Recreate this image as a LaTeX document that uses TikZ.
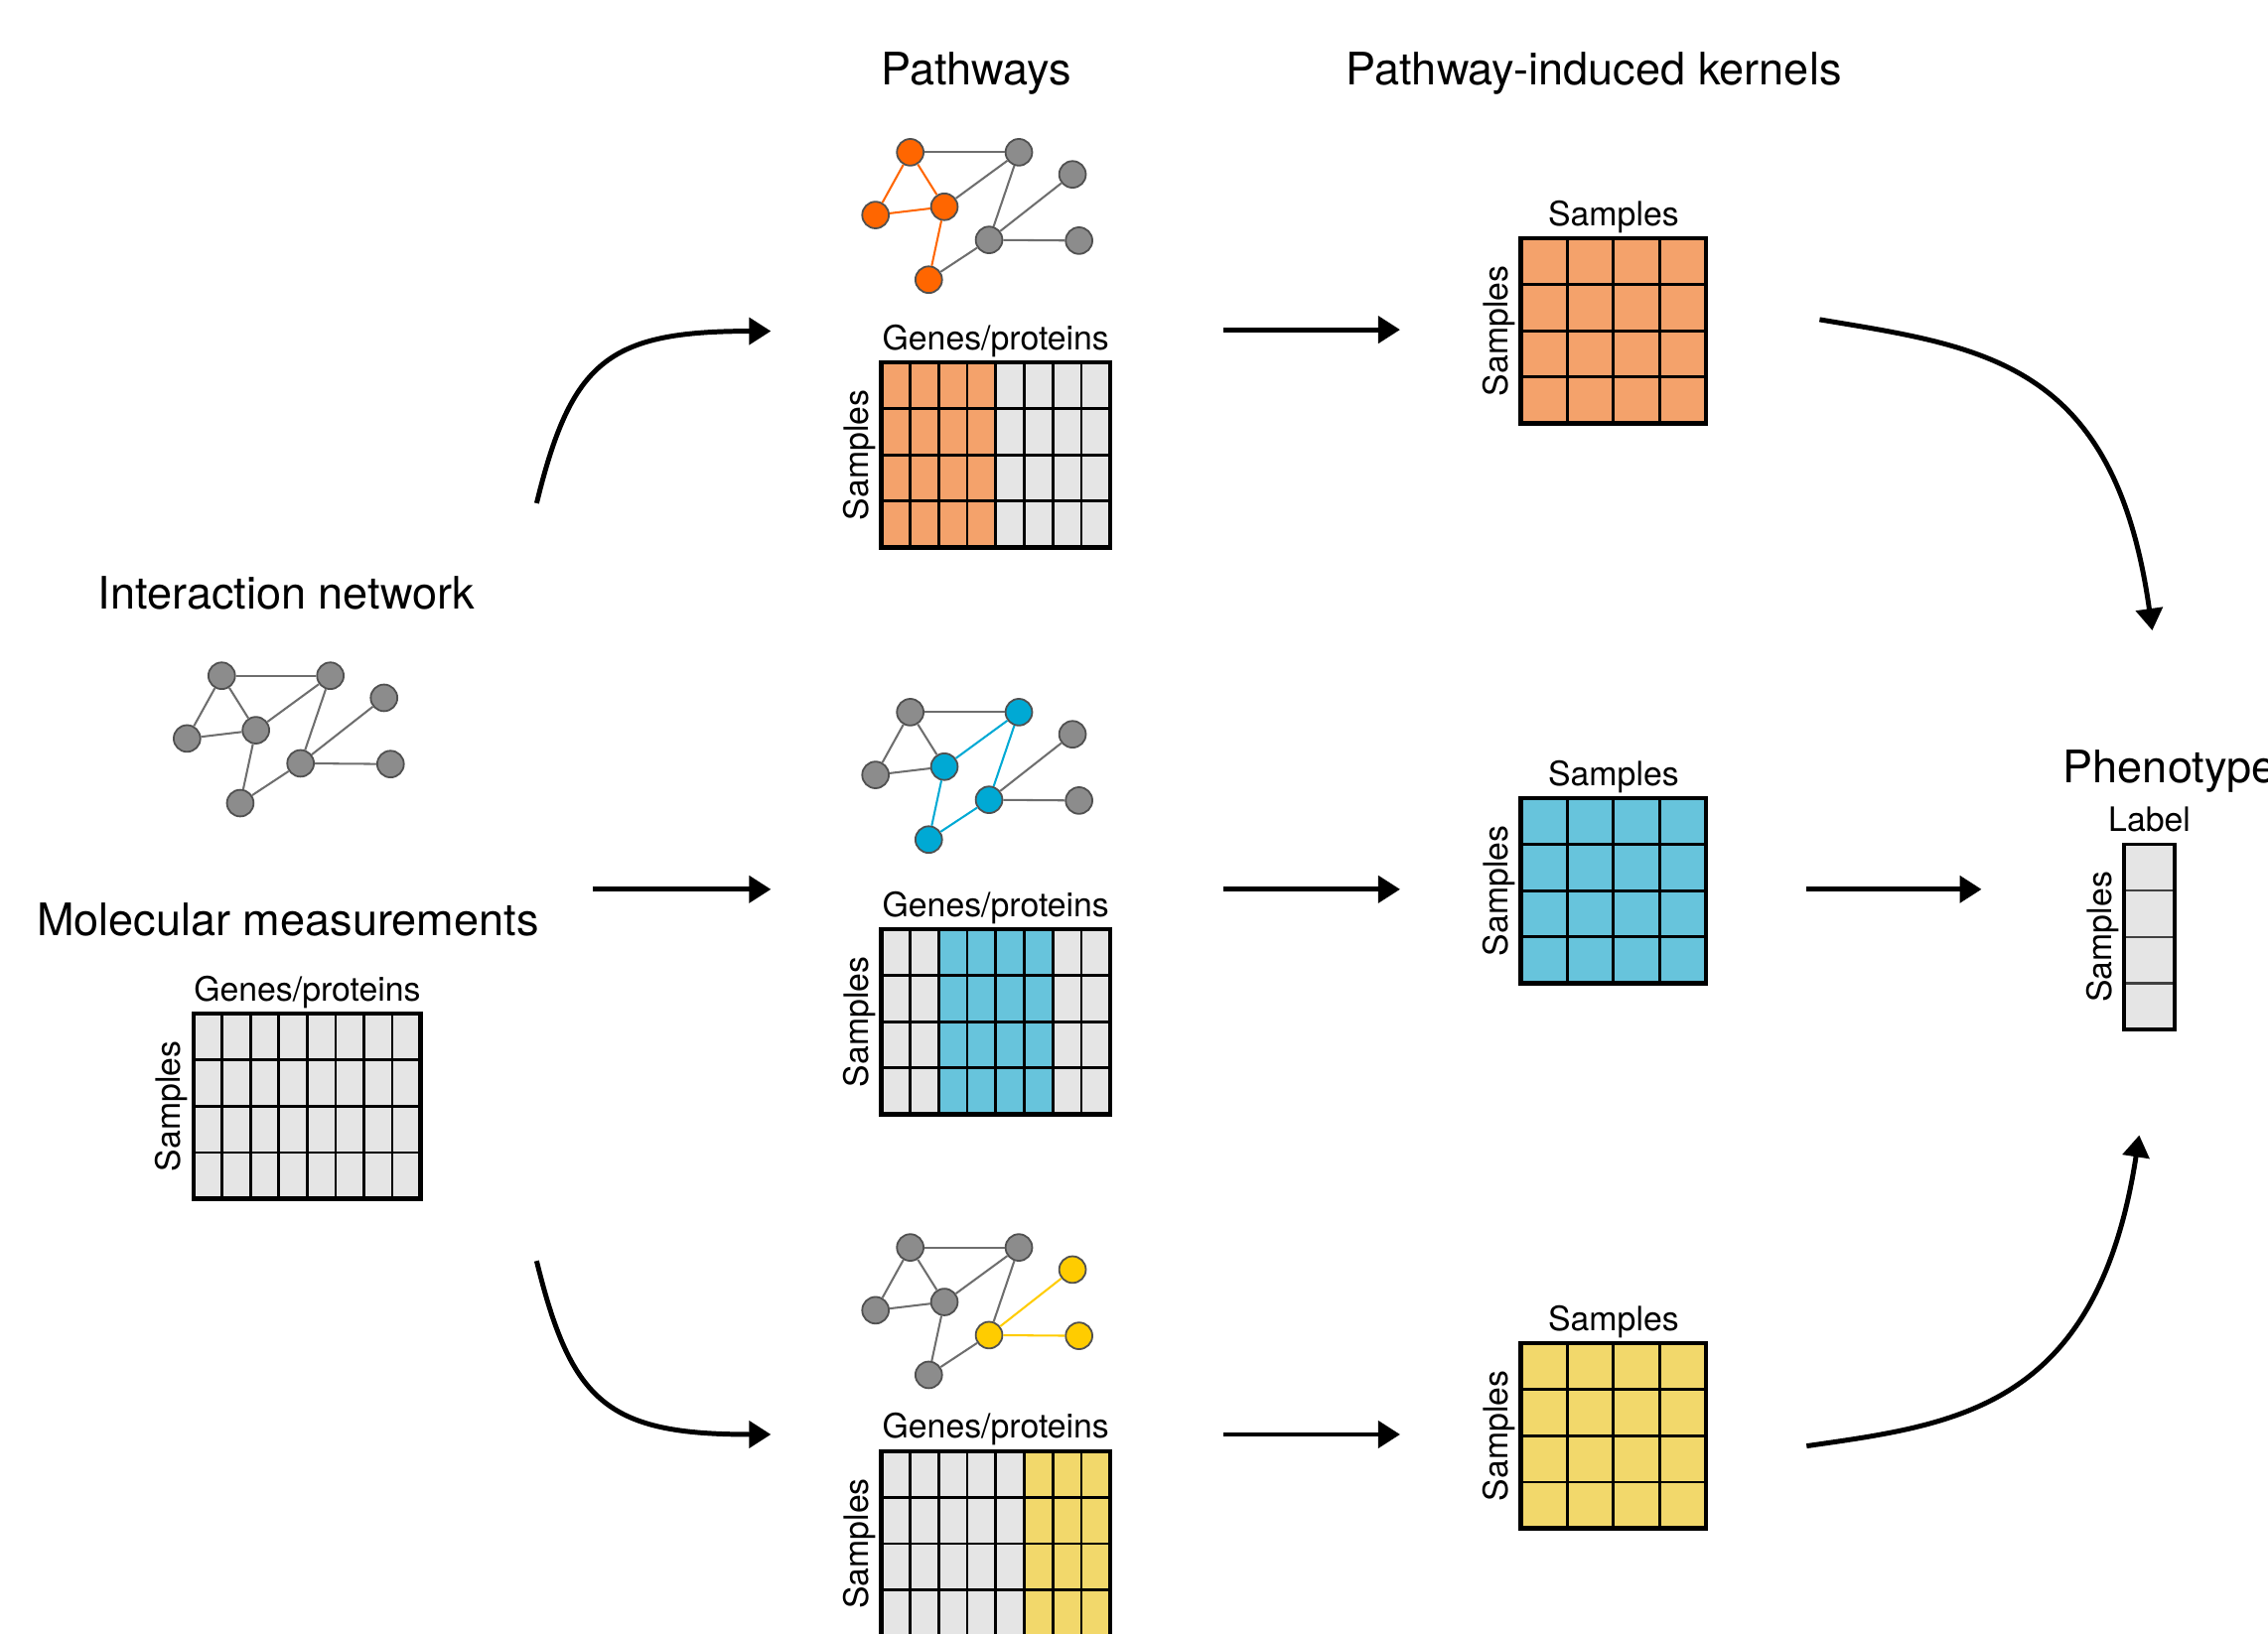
\documentclass[tikz,border=0pt]{standalone}
\usepackage{fontspec}
\setmainfont{TeX Gyre Heros}
\usepackage{xcolor}
\usepackage{tikz}
\usetikzlibrary{arrows.meta, positioning, fit}

\definecolor{genegray}{HTML}{8C8C8C}
\definecolor{generim}{HTML}{505050}
\definecolor{linkgray}{HTML}{6E6E6E}
\definecolor{cellgray}{HTML}{E5E5E5}
\definecolor{hotorange}{HTML}{FF6600}
\definecolor{cellorange}{HTML}{F4A26B}
\definecolor{hotblue}{HTML}{00A9D4}
\definecolor{cellblue}{HTML}{67C4DC}
\definecolor{hotyellow}{HTML}{FFCC00}
\definecolor{cellyellow}{HTML}{F2D86B}

% small gene network: #1 prefix, #2 position of gene 1, #3 flags, #4 colour of flagged genes
\newcommand{\genenet}[4]{%
  \begin{scope}[shift={#2}]
    \foreach \n/\gx/\gy in {1/0/0, 2/75.1/0, 3/-24/43.4, 4/23.6/37.7,
                            5/112.2/15.3, 6/54.5/60.6, 7/116.7/61.1, 8/12.8/88.1} {
      \pgfmathtruncatemacro{\hot}{{#3}[\n-1]}
      \ifnum\hot=1 \def\genefill{#4}\else\def\genefill{genegray}\fi
      \node[gene, fill=\genefill] (#1\n) at (\gx,\gy) {};
    }
  \end{scope}
  \foreach \a/\b in {1/2, 1/3, 1/4, 3/4, 4/2, 2/6, 4/8, 8/6, 6/5, 6/7} {
    \pgfmathtruncatemacro{\hot}{{#3}[\a-1]*{#3}[\b-1]}
    \ifnum\hot=1 \def\linkcol{#4}\else\def\linkcol{linkgray}\fi
    \draw[link, draw=\linkcol] (#1\a) -- (#1\b);
  }%
}

% data table: #1 name, #2 left, #3 top, #4 columns, #5 cell width, #6 coloured columns, #7 colour
\newcommand{\cellgrid}[7]{%
  \fill[cellgray] (#2,#3) rectangle ++({#4*#5},128);
  \foreach \c in {#6}
    \fill[#7] ({#2+(\c-1)*#5},#3) rectangle ++(#5,128);
  \foreach \c in {2,...,#4}
    \draw[cellline] ({#2+(\c-1)*#5},#3) -- ++(0,128);
  \foreach \r in {1,2,3}
    \draw[cellline] (#2,{#3+\r*32}) -- ++({#4*#5},0);
  \node[gridframe, fit={(#2,#3) ({#2+#4*#5},{#3+128})}] (#1) {};
}

\begin{document}
\begin{tikzpicture}[
    x=0.01cm, y=-0.01cm,
    heading/.style={font=\fontsize{8.8}{10}\selectfont, inner sep=0pt},
    tag/.style={font=\fontsize{6.6}{8}\selectfont, inner sep=0pt},
    gene/.style={circle, draw=generim, line width=0.35pt, minimum size=0.184cm, inner sep=0pt},
    link/.style={line width=0.4pt},
    cellline/.style={line width=0.55pt},
    gridframe/.style={draw, line width=0.85pt, inner sep=0pt},
    arr/.style={-{Triangle[length=4.3pt, width=5.2pt]}, line width=0.97pt},
]
    \useasboundingbox (0,0) rectangle (1568,1130);

    % ── Inputs ──
    \node[heading, anchor=base] (nettitle) at (198,421) {Interaction network};
    \genenet{net}{(153.3,467.3)}{0,0,0,0,0,0,0,0}{genegray}

    \node[heading, anchor=base] (meastitle) at (199,647) {Molecular measurements};
    \cellgrid{M0}{134}{701}{8}{19.6}{1}{cellgray}

    % ── Pathways ──
    \node[heading, anchor=base] (pathtitle) at (675,59) {Pathways};

    \genenet{pwa}{(629.3,105.3)}{1,0,1,1,0,0,0,1}{hotorange}
    \cellgrid{M1}{609.4}{250.6}{8}{19.75}{1,2,3,4}{cellorange}

    \genenet{pwb}{(629.3,492.5)}{0,1,0,1,0,1,0,1}{hotblue}
    \cellgrid{M2}{609.4}{642.6}{8}{19.75}{3,4,5,6}{cellblue}

    \genenet{pwc}{(629.3,862.7)}{0,0,0,0,1,1,1,0}{hotyellow}
    \cellgrid{M3}{609.4}{1003.5}{8}{19.75}{6,7,8}{cellyellow}

    \foreach \m in {M0,M1,M2,M3} {
        \node[tag, above=0.015cm of \m] (\m-top) {Genes/proteins};
        \node[tag, rotate=90, left=0.02cm of \m, anchor=south] (\m-side) {Samples};
    }

    % ── Kernels ──
    \node[heading, anchor=base] (kerntitle) at (1102,59) {Pathway-induced kernels};

    \cellgrid{K1}{1051.5}{164.8}{4}{32}{1,2,3,4}{cellorange}
    \cellgrid{K2}{1051.5}{552}{4}{32}{1,2,3,4}{cellblue}
    \cellgrid{K3}{1051.5}{929}{4}{32}{1,2,3,4}{cellyellow}

    \foreach \k in {K1,K2,K3} {
        \node[tag, above=0.015cm of \k] (\k-top) {Samples};
        \node[tag, rotate=90, left=0.02cm of \k, anchor=south] (\k-side) {Samples};
    }

    % ── Phenotype ──
    \node[heading, anchor=base west] (phenotitle) at (1425.7,541.2) {Phenotype};

    \fill[cellgray] (1468.5,584) rectangle ++(35,128);
    \foreach \r in {1,2,3}
        \draw[line width=0.45pt, black!75] (1468.5,{584+\r*32}) -- ++(35,0);
    \node[gridframe, line width=0.65pt, fit={(1468.5,584) (1503.5,712)}] (L) {};
    \node[tag, above=0.07cm of L] (L-top) {Label};
    \node[tag, rotate=90, left=0.02cm of L, anchor=south] (L-side) {Samples};

    % ── Arrows ──
    \coordinate (in-up) at (371,348);     \coordinate (to-pwa) at (533,229);
    \coordinate (in-mid) at (410,615);    \coordinate (to-pwb) at (533,615);
    \coordinate (in-dn) at (371,872);     \coordinate (to-pwc) at (533,992);

    \draw[arr] (in-up) .. controls (395,250) and (420,229) .. (to-pwa);
    \draw[arr] (in-mid) -- (to-pwb);
    \draw[arr] (in-dn) .. controls (395,970) and (420,992) .. (to-pwc);

    \foreach \y/\i in {228/1, 615/2, 992/3} {
        \coordinate (pw-out\i) at (846,\y);
        \coordinate (k-in\i) at (968,\y);
        \draw[arr] (pw-out\i) -- (k-in\i);
    }

    \coordinate (k-out1) at (1258,221);   \coordinate (ph-top) at (1488,436);
    \coordinate (k-out2) at (1249,615);   \coordinate (ph-mid) at (1370,615);
    \coordinate (k-out3) at (1249,1000);  \coordinate (ph-bot) at (1479,785);

    \draw[arr] (k-out1) .. controls (1372,240) and (1462,250) .. (ph-top);
    \draw[arr] (k-out2) -- (ph-mid);
    \draw[arr] (k-out3) .. controls (1352,985) and (1450,975) .. (ph-bot);

\end{tikzpicture}
\end{document}
